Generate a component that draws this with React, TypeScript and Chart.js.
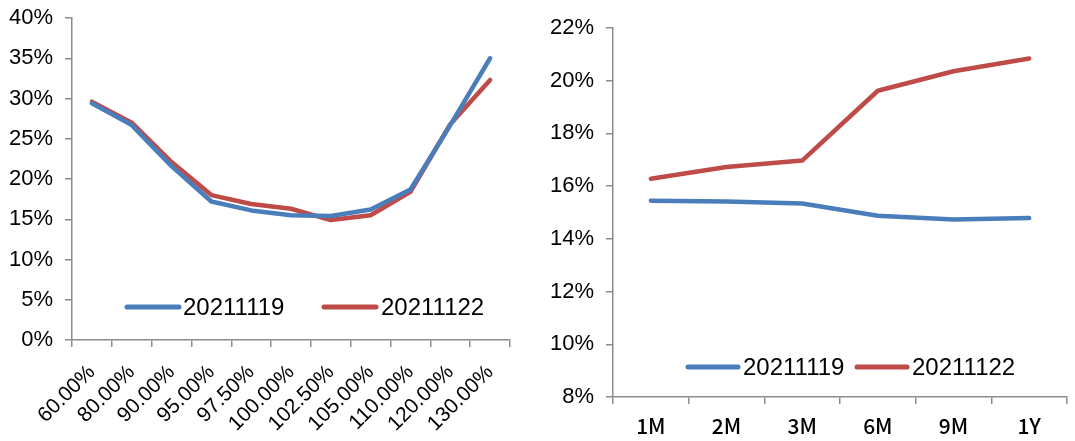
import React, { useEffect, useRef } from "react";
import { Chart, registerables } from "chart.js";

Chart.register(...registerables);

const leftCategories = ["60.00%", "80.00%", "90.00%", "95.00%", "97.50%", "100.00%", "102.50%", "105.00%", "110.00%", "120.00%", "130.00%"];
const left20211119 = [29.4, 26.7, 21.6, 17.2, 16.1, 15.5, 15.4, 16.2, 18.7, 26.7, 35.0];
const left20211122 = [29.6, 27.0, 22.1, 18.0, 16.9, 16.3, 14.9, 15.5, 18.4, 26.8, 32.3];

const rightCategories = ["1M", "2M", "3M", "6M", "9M", "1Y"];
const right20211119 = [15.45, 15.42, 15.34, 14.88, 14.73, 14.79];
const right20211122 = [16.28, 16.73, 16.97, 19.62, 20.36, 20.84];

const seriesLabels = ["20211119", "20211122"];
const seriesColors = ["#4a7ebb", "#be4b48"];

const leftAxis = { min: 0, max: 40, step: 5 };
const rightAxis = { min: 8, max: 22, step: 2 };

const AXIS_COLOR = "#8c8c8c";
const SANS = "'Liberation Sans', Arial, sans-serif";

const legendPlugin = {
  id: "inlineLegend",
  afterDraw(chart: any) {
    const cfg = chart.options.plugins.inlineLegend;
    if (!cfg) return;
    const ctx = chart.ctx;
    ctx.save();
    chart.data.datasets.forEach((ds: any, i: number) => {
      const it = cfg.items[i];
      ctx.strokeStyle = ds.borderColor;
      ctx.lineWidth = 5;
      ctx.lineCap = "round";
      ctx.beginPath();
      ctx.moveTo(it.lineX, cfg.y);
      ctx.lineTo(it.lineX + it.lineLen, cfg.y);
      ctx.stroke();
      ctx.fillStyle = "#000";
      ctx.font = cfg.font;
      ctx.textBaseline = "middle";
      ctx.textAlign = "left";
      ctx.fillText(ds.label, it.textX, cfg.y + 1);
    });
    ctx.restore();
  },
};

type Props = {
  categories: string[];
  s1: number[];
  s2: number[];
  axis: { min: number; max: number; step: number };
  padding: { top: number; right: number; left: number; bottom: number };
  yWidth: number;
  xHeight: number;
  rotated: boolean;
  legend: any;
  xFont: any;
  xPad: number;
};

function LineChart(p: Props) {
  const ref = useRef<HTMLCanvasElement | null>(null);
  useEffect(() => {
    if (!ref.current) return;
    const chart = new Chart(ref.current, {
      type: "line",
      data: {
        labels: p.categories,
        datasets: [
          { label: seriesLabels[0], data: p.s1, borderColor: seriesColors[0], backgroundColor: seriesColors[0], borderWidth: 4.5, pointRadius: 0, tension: 0, borderCapStyle: "round", borderJoinStyle: "round" },
          { label: seriesLabels[1], data: p.s2, borderColor: seriesColors[1], backgroundColor: seriesColors[1], borderWidth: 4.5, pointRadius: 0, tension: 0, borderCapStyle: "round", borderJoinStyle: "round" },
        ],
      },
      options: {
        responsive: true,
        maintainAspectRatio: false,
        animation: false,
        layout: { padding: p.padding },
        plugins: {
          legend: { display: false },
          tooltip: { enabled: false },
          inlineLegend: p.legend,
        } as any,
        scales: {
          x: {
            offset: true,
            grid: { display: true, offset: true, drawOnChartArea: false, drawTicks: true, tickLength: 7, color: AXIS_COLOR, lineWidth: 1.5 },
            border: { color: AXIS_COLOR, width: 1.5 },
            ticks: {
              color: "#000",
              font: p.xFont,
              autoSkip: false,
              minRotation: p.rotated ? 45 : 0,
              maxRotation: p.rotated ? 45 : 0,
              padding: p.xPad,
            },
            afterFit(scale: any) {
              scale.height = p.xHeight;
            },
          },
          y: {
            min: p.axis.min,
            max: p.axis.max,
            grid: { display: true, drawOnChartArea: false, drawTicks: true, tickLength: 7, color: AXIS_COLOR, lineWidth: 1.5 },
            border: { color: AXIS_COLOR, width: 1.5 },
            ticks: {
              stepSize: p.axis.step,
              color: "#000",
              font: { family: SANS, size: 22, lineHeight: 0.4 },
              padding: 12,
              callback: (v: any) => v + "%",
            },
            afterFit(scale: any) {
              scale.width = p.yWidth;
            },
          },
        },
      },
      plugins: [legendPlugin],
    });
    return () => chart.destroy();
  }, []);
  return <canvas ref={ref} />;
}

export default function App() {
  return (
    <div style={{ position: "fixed", left: 0, top: 0, width: 1075, height: 441, background: "#fff" }}>
      <div style={{ position: "absolute", left: 0, top: 0, width: 535, height: 441 }}>
        <LineChart
          categories={leftCategories}
          s1={left20211119}
          s2={left20211122}
          axis={leftAxis}
          padding={{ top: 18, right: 25, left: 0, bottom: 0 }}
          yWidth={72}
          xHeight={101}
          rotated={true}
          xFont={{ family: SANS, size: 21 }}
          xPad={13}
          legend={{
            y: 307,
            font: `24px ${SANS}`,
            items: [
              { lineX: 127, lineLen: 52, textX: 183 },
              { lineX: 324, lineLen: 52, textX: 381 },
            ],
          }}
        />
      </div>
      <div style={{ position: "absolute", left: 540, top: 0, width: 535, height: 441 }}>
        <LineChart
          categories={rightCategories}
          s1={right20211119}
          s2={right20211122}
          axis={rightAxis}
          padding={{ top: 28, right: 8, left: 0, bottom: 0 }}
          yWidth={73}
          xHeight={44}
          rotated={false}
          xFont={{ family: "'Noto Sans CJK SC', sans-serif", size: 21, weight: "500" }}
          xPad={9}
          legend={{
            y: 367,
            font: `24px ${SANS}`,
            items: [
              { lineX: 148, lineLen: 50, textX: 203 },
              { lineX: 317, lineLen: 50, textX: 372 },
            ],
          }}
        />
      </div>
    </div>
  );
}
